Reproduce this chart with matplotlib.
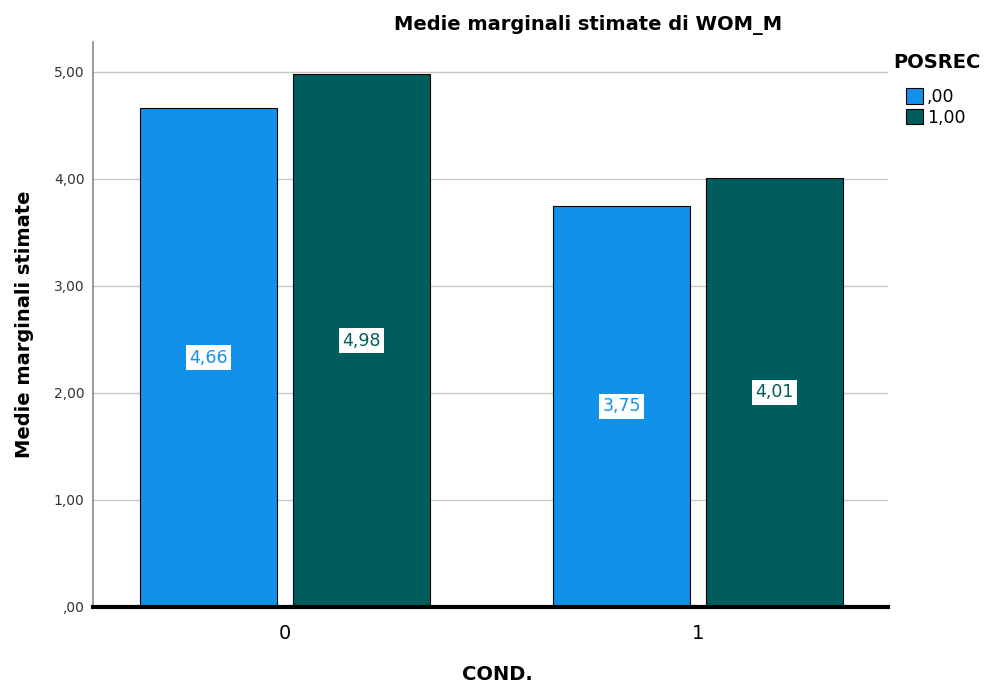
import numpy as np
import matplotlib.pyplot as plt
from matplotlib.patches import Patch

# data
conds = ["0", "1"]
posrec_levels = [",00", "1,00"]
means_00 = [4.66, 3.75]
means_100 = [4.98, 4.01]
y_ticks = [0, 1, 2, 3, 4, 5]
y_tick_labels = [",00", "1,00", "2,00", "3,00", "4,00", "5,00"]

colors = ["#1192e8", "#005d5d"]

plt.rcParams['font.family'] = ['DejaVu Sans']

fig = plt.figure(figsize=(9.87, 6.84), dpi=100)
ax = fig.add_axes([93 / 987, 1 - 607 / 684, 795 / 987, 565 / 684])

x = np.arange(len(conds))
width = 0.332
offset = 0.185

for i, (vals, col) in enumerate(zip([means_00, means_100], colors)):
    pos = x + (-offset if i == 0 else offset)
    ax.bar(pos, vals, width, color=col, edgecolor="black", linewidth=0.8, zorder=3)
    for p, v in zip(pos, vals):
        ax.text(p, v / 2, f"{v:.2f}".replace(".", ","), ha="center", va="center",
                fontsize=12.5, color=col, zorder=4,
                bbox=dict(boxstyle="square,pad=0.2", facecolor="white", edgecolor="none"))

ax.set_xlim(-0.465, 1.46)
ax.set_ylim(0, 5.28)
ax.set_yticks(y_ticks)
ax.set_yticklabels(y_tick_labels, fontsize=10, color="#333333")
ax.set_xticks(x)
ax.set_xticklabels(conds, fontsize=14)
ax.tick_params(axis="y", length=0, pad=6)
ax.tick_params(axis="x", length=0, pad=12)
ax.grid(axis="y", color="#c8c8c8", linewidth=1, zorder=0)

for s in ["top", "right"]:
    ax.spines[s].set_visible(False)
ax.spines["left"].set_color("#888888")
ax.spines["left"].set_linewidth(1.2)
ax.spines["bottom"].set_color("black")
ax.spines["bottom"].set_linewidth(3)
ax.spines["bottom"].set_zorder(5)

ax.set_ylabel("Medie marginali stimate", fontsize=14, fontweight="bold", labelpad=14)
fig.text(497 / 987, 1 - 674 / 684, "COND.", ha="center", va="center",
         fontsize=14, fontweight="bold")

fig.text(588 / 987, 1 - 25 / 684, "Medie marginali stimate di WOM_M",
         ha="center", va="center", fontsize=14, fontweight="bold")

fig.text(893 / 987, 1 - 63 / 684, "POSREC", ha="left", va="center",
         fontsize=14, fontweight="bold")
handles = [Patch(facecolor=c, edgecolor="black", linewidth=0.8) for c in colors]
leg = fig.legend(handles, posrec_levels, loc="upper left",
                 bbox_to_anchor=(906 / 987, 1 - 88 / 684), frameon=False,
                 fontsize=12.5, handlelength=1.0, handleheight=1.0, handletextpad=0.2,
                 labelspacing=0.15, borderpad=0.0, borderaxespad=0.0)

fig.savefig("out.png", dpi=100)
